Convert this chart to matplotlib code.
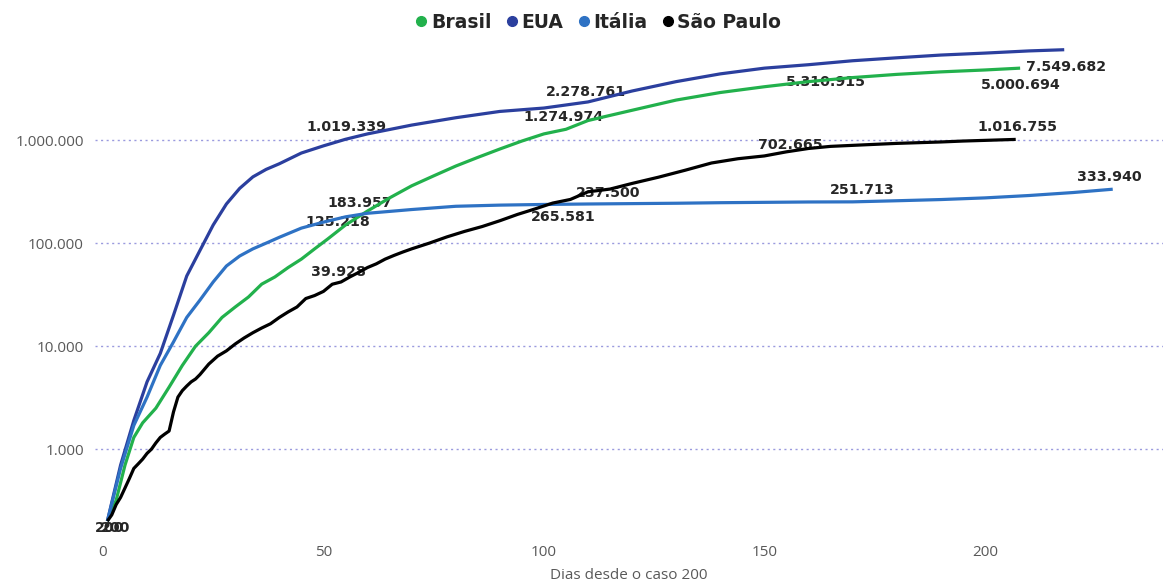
import matplotlib
matplotlib.use("Agg")
import matplotlib.pyplot as plt
from matplotlib.lines import Line2D

# ---------------- data ----------------
eua_days = [1, 4, 7, 10, 13, 16, 19, 22, 25, 28, 31, 34, 37, 40, 45, 50, 55, 60, 70, 80,
            90, 100, 110, 120, 130, 140, 150, 160, 170, 180, 190, 200, 210, 218]
eua_vals = [200, 700, 1900, 4500, 8500, 20000, 48000, 85000, 150000, 240000, 340000,
            440000, 520000, 590000, 750000, 880000, 1019339, 1150000, 1400000, 1650000,
            1900000, 2050000, 2350000, 3000000, 3700000, 4400000, 5000000, 5400000,
            5900000, 6300000, 6700000, 7000000, 7350000, 7549682]

bra_days = [1, 3, 5, 7, 9, 12, 15, 18, 21, 24, 27, 30, 33, 36, 39, 42, 45, 48, 51, 55,
            60, 65, 70, 75, 80, 85, 90, 95, 100, 105, 110, 120, 130, 140, 150, 160, 170,
            180, 190, 200, 208]
bra_vals = [200, 320, 700, 1300, 1800, 2500, 4000, 6500, 10000, 13500, 19000, 24000,
            30000, 40000, 47000, 58000, 70000, 88000, 110000, 150000, 205000, 275000,
            360000, 450000, 560000, 680000, 820000, 980000, 1150000, 1274974, 1550000,
            1950000, 2450000, 2900000, 3300000, 3700000, 4050000, 4350000, 4600000,
            4800000, 5000694]

ita_days = [1, 4, 7, 10, 13, 16, 19, 22, 25, 28, 31, 34, 37, 40, 45, 50, 55, 60, 70, 80,
            90, 100, 110, 120, 130, 140, 150, 160, 170, 180, 190, 200, 210, 220, 229]
ita_vals = [200, 650, 1700, 3200, 6500, 11000, 19000, 28000, 42000, 60000, 75000, 88000,
            100000, 114000, 140000, 160000, 180000, 195000, 212000, 228000, 234000,
            237500, 240000, 242000, 244000, 247000, 249000, 251000, 251713, 258000,
            265000, 275000, 290000, 310000, 333940]

sp_days = [1, 2, 3, 4, 5, 6, 7, 8, 9, 10, 11, 12, 13, 14, 15, 16, 17, 18, 19, 20, 21, 22,
           24, 26, 28, 30, 32, 34, 36, 38, 40, 42, 44, 46, 48, 50, 52, 54, 56, 58, 60, 62,
           64, 66, 68, 70, 74, 78, 82, 86, 90, 94, 98, 102, 106, 110, 115, 120, 126, 132,
           138, 144, 150, 155, 160, 165, 170, 175, 180, 185, 190, 195, 200, 207]
sp_vals = [200, 230, 290, 340, 420, 520, 650, 720, 800, 910, 1000, 1150, 1300, 1400, 1500,
           2300, 3200, 3700, 4100, 4500, 4800, 5300, 6700, 8000, 9000, 10500, 12000, 13500,
           15000, 16500, 19000, 21500, 24000, 29000, 31000, 34000, 39928, 42000, 47000,
           52000, 58000, 63000, 70000, 76000, 82000, 88000, 100000, 115000, 130000,
           145000, 165000, 190000, 215000, 245000, 265581, 315000, 335000, 380000, 437000,
           510000, 600000, 660000, 702665, 770000, 830000, 870000, 890000, 910000, 930000,
           945000, 960000, 980000, 995000, 1016755]

series_names = ["Brasil", "EUA", "Itália", "São Paulo"]
series_colors = ["#22b14c", "#2b3f9e", "#2e72c4", "#000000"]

# value labels: (text, day, value)
label_texts = ["1.019.339", "2.278.761", "5.310.915", "7.549.682", "5.000.694",
               "1.274.974", "1.016.755", "702.665", "183.957", "125.218", "39.928",
               "237.500", "265.581", "251.713", "333.940", "200", "200"]
label_days = [55.3, 109.5, 164, 218.4, 208.2, 104.5, 207.3, 155.8, 58.3, 53.3, 53.3,
              114.5, 104.3, 172.1, 228.3, 1.6, 2.9]
label_vals = [1.34e6, 2.93e6, 3.66e6, 5.12e6, 3.42e6, 1.67e6, 1.34e6, 8.94e5, 2.44e5,
              1.60e5, 5.22e4, 3.06e5, 1.79e5, 3.27e5, 4.38e5, 171, 171]

ytick_vals = [1000, 10000, 100000, 1000000]
ytick_labels = ["1.000", "10.000", "100.000", "1.000.000"]
xtick_vals = [0, 50, 100, 150, 200]

# ---------------- figure ----------------
fig = plt.figure(figsize=(11.63, 5.86), dpi=100)
ax = fig.add_axes([0.0817, 0.0887, 0.9183, 0.844])

data = [(bra_days, bra_vals), (eua_days, eua_vals), (ita_days, ita_vals), (sp_days, sp_vals)]
for (d, v), c, n in zip(data, series_colors, series_names):
    ax.plot(d, v, color=c, lw=2.3, label=n, zorder=3, solid_capstyle="butt")

ax.set_yscale("log")
ax.set_ylim(150, 9.5e6)
ax.set_xlim(-1.8, 240.4)

ax.set_yticks(ytick_vals)
ax.set_yticklabels(ytick_labels)
ax.yaxis.set_minor_locator(matplotlib.ticker.NullLocator())
ax.set_xticks(xtick_vals)
ax.tick_params(axis="both", length=0, labelcolor="#595959", labelsize=11)
ax.tick_params(axis="y", pad=8)
ax.tick_params(axis="x", pad=8)
for lab in ax.get_xticklabels() + ax.get_yticklabels():
    lab.set_fontfamily("Open Sans")

for s in ax.spines.values():
    s.set_visible(False)

ax.grid(axis="y", which="major", color="#9a9ade", linestyle=(0, (1.5, 2.5)), lw=1.0, zorder=1)
ax.grid(axis="x", visible=False)

for t, d, v in zip(label_texts, label_days, label_vals):
    ax.text(d, v, t, ha="center", va="center", fontsize=10.2, fontweight="bold",
            color="#262626", family="DejaVu Sans", zorder=2)

ax.set_xlabel("Dias desde o caso 200", fontsize=11, color="#595959", family="Open Sans",
              labelpad=6)

handles = [Line2D([0], [0], marker="o", linestyle="none", markersize=7,
                  markerfacecolor=c, markeredgecolor=c) for c in series_colors]
fig.legend(handles, series_names, loc="center", bbox_to_anchor=(0.513, 0.962), ncol=4,
           frameon=False, handletextpad=0.0, columnspacing=0.6, handlelength=1.0,
           prop={"family": "DejaVu Sans", "weight": "bold", "size": 13.5},
           labelcolor="#262626")

fig.savefig("out.png", dpi=100)
